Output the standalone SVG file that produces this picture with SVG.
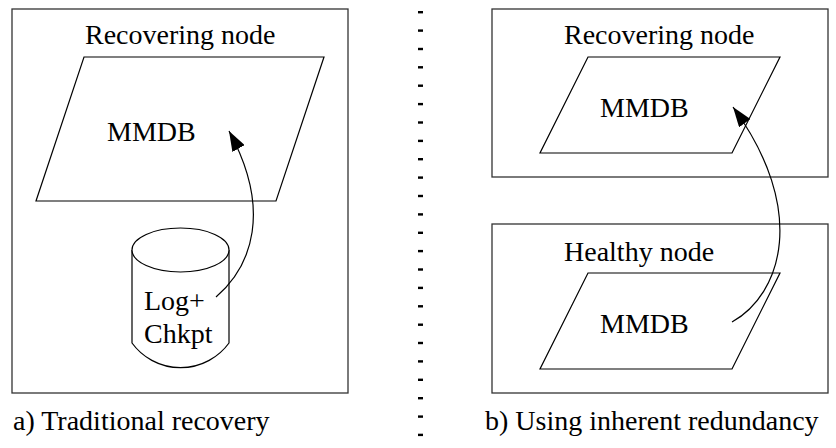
<svg xmlns="http://www.w3.org/2000/svg" width="836" height="448" viewBox="0 0 836 448">
  <style>
    .frame { fill: none; stroke: #333; stroke-width: 1.3; }
    .shape { fill: #fff; stroke: #000; stroke-width: 1.2; }
    .link { fill: none; stroke: #000; stroke-width: 1.2; }
    text { font-family: "Liberation Serif", "Times New Roman", serif; font-size: 28px; fill: #000; }
    .dash { fill: #000; }
  </style>
  <defs>
    <marker id="head" viewBox="0 0 20 14" refX="20" refY="7" markerWidth="20" markerHeight="14" markerUnits="userSpaceOnUse" orient="auto">
      <path d="M0,0 L20,7 L0,14 Z" fill="#000"/>
    </marker>
    <rect id="tick" width="5" height="2.4"/>
  </defs>

  <!-- panel a: traditional recovery -->
  <g id="node-a-recovering">
    <rect class="frame" x="12" y="9" width="336" height="384"/>
    <text x="85" y="44">Recovering node</text>
  </g>
  <g id="node-a-mmdb">
    <polygon class="shape" points="84,57 324,57 276,201 36,201"/>
    <text x="107" y="141">MMDB</text>
  </g>
  <g id="node-a-log">
    <path class="shape" d="M132,250 L132,343 A60,60 0 0 0 229,343 L229,250"/>
    <ellipse class="shape" cx="180.5" cy="250" rx="48.5" ry="22"/>
    <text x="144" y="310">Log+</text>
    <text x="144" y="343">Chkpt</text>
  </g>
  <text id="caption-a" x="13" y="430">a) Traditional recovery</text>

  <!-- dotted divider -->
  <g id="divider" class="dash">
    <use href="#tick" x="418" y="11"/>
    <use href="#tick" x="418" y="29.4"/>
    <use href="#tick" x="418" y="47.8"/>
    <use href="#tick" x="418" y="66.1"/>
    <use href="#tick" x="418" y="84.5"/>
    <use href="#tick" x="418" y="102.9"/>
    <use href="#tick" x="418" y="121.3"/>
    <use href="#tick" x="418" y="139.7"/>
    <use href="#tick" x="418" y="158"/>
    <use href="#tick" x="418" y="176.4"/>
    <use href="#tick" x="418" y="194.8"/>
    <use href="#tick" x="418" y="213.2"/>
    <use href="#tick" x="418" y="231.6"/>
    <use href="#tick" x="418" y="249.9"/>
    <use href="#tick" x="418" y="268.3"/>
    <use href="#tick" x="418" y="286.7"/>
    <use href="#tick" x="418" y="305.1"/>
    <use href="#tick" x="418" y="323.5"/>
    <use href="#tick" x="418" y="341.8"/>
    <use href="#tick" x="418" y="360.2"/>
    <use href="#tick" x="418" y="378.6"/>
    <use href="#tick" x="418" y="397"/>
    <use href="#tick" x="418" y="415.4"/>
    <use href="#tick" x="418" y="433.7"/>
  </g>

  <!-- panel b: using inherent redundancy -->
  <g id="node-b-recovering">
    <rect class="frame" x="492" y="9" width="336" height="168"/>
    <text x="564" y="44">Recovering node</text>
  </g>
  <g id="node-b-mmdb-top">
    <polygon class="shape" points="588,57 780,57 732,153 540,153"/>
    <text x="600" y="117">MMDB</text>
  </g>
  <g id="node-b-healthy">
    <rect class="frame" x="492" y="224" width="336" height="169"/>
    <text x="564" y="261">Healthy node</text>
  </g>
  <g id="node-b-mmdb-bottom">
    <polygon class="shape" points="588,273 780,273 732,369 540,369"/>
    <text x="600" y="333">MMDB</text>
  </g>
  <text id="caption-b" x="485" y="430">b) Using inherent redundancy</text>

  <!-- connectors -->
  <g id="connectors">
    <path class="link" d="M216,297 C252,266 272,210 229,131" marker-end="url(#head)"/>
    <path class="link" d="M732,322 C782,294 808,210 733,107" marker-end="url(#head)"/>
  </g>
</svg>
